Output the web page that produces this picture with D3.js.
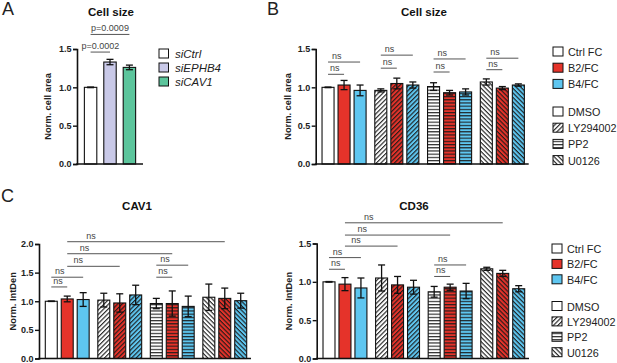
<!DOCTYPE html>
<html><head><meta charset="utf-8">
<script src="https://cdn.jsdelivr.net/npm/d3@7"></script>
<style>
html,body{margin:0;padding:0;background:#fff;}
svg{display:block;font-family:"Liberation Sans",Arial,sans-serif;}
</style></head>
<body><svg id="chart" width="617" height="363"></svg>
<script>
// ---------- DATA ----------
const aCategories = ["siCtrl", "siEPHB4", "siCAV1"];
const aMeans = [1.0, 1.33, 1.26];
const aErrors = [0.004, 0.035, 0.03];
const aTicks = [0, 0.5, 1.0, 1.5];
const aComparisons = [
  {from: 0, to: 1, y: 1.46, label: "p=0.0002"},
  {from: 0, to: 2, y: 1.69, label: "p=0.0009"}
];

const groups = ["DMSO", "LY294002", "PP2", "U0126"];
const conditions = ["Ctrl FC", "B2/FC", "B4/FC"];

const cellSizeMeans = [[1.0, 1.03, 0.96], [0.96, 1.05, 1.03], [1.01, 0.93, 0.94], [1.07, 0.99, 1.03]];
const cellSizeErrors = [[0.004, 0.06, 0.07], [0.02, 0.07, 0.04], [0.05, 0.03, 0.04], [0.04, 0.02, 0.015]];
const cellSizeTicks = [0, 0.5, 1.0, 1.5];
const cellSizeComparisons = [
  {from: [0, 0], to: [0, 1], y: 1.17, label: "ns"},
  {from: [0, 0], to: [0, 2], y: 1.33, label: "ns"},
  {from: [1, 0], to: [1, 1], y: 1.25, label: "ns"},
  {from: [1, 0], to: [1, 2], y: 1.42, label: "ns"},
  {from: [2, 0], to: [2, 1], y: 1.20, label: "ns"},
  {from: [2, 0], to: [2, 2], y: 1.37, label: "ns"},
  {from: [3, 0], to: [3, 1], y: 1.23, label: "ns"},
  {from: [3, 0], to: [3, 2], y: 1.38, label: "ns"}
];

const cav1Means = [[1.0, 1.04, 1.03], [1.02, 0.97, 1.11], [0.96, 0.96, 0.91], [1.07, 1.05, 1.01]];
const cav1Errors = [[0.004, 0.05, 0.12], [0.12, 0.16, 0.17], [0.09, 0.22, 0.18], [0.23, 0.18, 0.13]];
const cav1Ticks = [0, 0.5, 1.0, 1.5, 2.0];
const cav1Comparisons = [
  {from: [0, 0], to: [0, 1], y: 1.25, label: "ns"},
  {from: [0, 0], to: [0, 2], y: 1.42, label: "ns"},
  {from: [0, 1], to: [1, 1], y: 1.61, label: "ns"},
  {from: [0, 1], to: [2, 1], y: 1.83, label: "ns"},
  {from: [0, 1], to: [3, 1], y: 2.04, label: "ns"},
  {from: [2, 0], to: [2, 1], y: 1.42, label: "ns"},
  {from: [2, 0], to: [2, 2], y: 1.63, label: "ns"}
];

const cd36Means = [[1.0, 0.97, 0.92], [1.05, 0.96, 0.93], [0.87, 0.93, 0.88], [1.17, 1.11, 0.91]];
const cd36Errors = [[0.004, 0.085, 0.13], [0.17, 0.11, 0.09], [0.07, 0.04, 0.1], [0.02, 0.04, 0.04]];
const cd36Ticks = [0, 0.5, 1.0, 1.5];
const cd36Comparisons = [
  {from: [0, 0], to: [0, 1], y: 1.164, label: "ns"},
  {from: [0, 0], to: [0, 2], y: 1.316, label: "ns"},
  {from: [0, 1], to: [1, 1], y: 1.466, label: "ns"},
  {from: [0, 1], to: [2, 1], y: 1.61, label: "ns"},
  {from: [0, 1], to: [3, 1], y: 1.77, label: "ns"},
  {from: [2, 0], to: [2, 1], y: 1.07, label: "ns"},
  {from: [2, 0], to: [2, 2], y: 1.22, label: "ns"}
];

// ---------- STYLE ----------
const aColors = ["#ffffff", "#c9c9e8", "#5cc59c"];
const condColors = ["#ffffff", "#e5332a", "#5ec6f0"];
const patternKinds = ["solid", "fwd", "horiz", "back"];

const svg = d3.select("#chart");
const defs = svg.append("defs");

function patternId(colorIdx, kind) { return `p-${colorIdx}-${kind}`; }
condColors.forEach((c, ci) => {
  patternKinds.forEach(k => {
    if (k === "solid") return;
    const p = defs.append("pattern")
      .attr("id", patternId(ci, k))
      .attr("patternUnits", "userSpaceOnUse")
      .attr("width", 3.2).attr("height", 3.2);
    if (k === "fwd") p.attr("patternTransform", "rotate(-45)");
    if (k === "back") p.attr("patternTransform", "rotate(45)");
    p.append("rect").attr("width", 3.2).attr("height", 3.2).attr("fill", c);
    p.append("line").attr("x1", 0).attr("x2", 3.2).attr("y1", 0.6).attr("y2", 0.6)
      .attr("stroke", "#1a1a1a").attr("stroke-width", 1.1);
  });
});
function fillFor(ci, gi) {
  const k = patternKinds[gi];
  return k === "solid" ? condColors[ci] : `url(#${patternId(ci, k)})`;
}

const tickFont = "bold 9px 'Liberation Sans', Arial, sans-serif";

function drawYAxis(g, y, ticks, x0, label, labelX, labelSize) {
  const ax = g.append("g").attr("transform", `translate(${x0},0)`)
    .call(d3.axisLeft(y).tickValues(ticks).tickFormat(d3.format(".1f")).tickSize(4).tickPadding(1.5));
  ax.select(".domain").attr("stroke", "#111").attr("stroke-width", 1.6);
  ax.selectAll(".tick line").attr("stroke", "#111").attr("stroke-width", 1.4);
  ax.selectAll(".tick text").style("font", tickFont).attr("fill", "#222");
  const [y0, y1] = y.range();
  g.append("text").attr("transform", `translate(${labelX},${(y0 + y1) / 2}) rotate(-90)`)
    .attr("text-anchor", "middle").attr("dominant-baseline", "middle")
    .style("font", `bold ${labelSize}px 'Liberation Sans', Arial, sans-serif`).attr("fill", "#222").text(label);
}
function drawXLine(g, x0, x1, y0) {
  g.append("line").attr("x1", x0 - 0.8).attr("x2", x1).attr("y1", y0).attr("y2", y0)
    .attr("stroke", "#111").attr("stroke-width", 1.6);
}
function drawErr(g, cx, y, mean, err, capW) {
  g.append("line").attr("x1", cx).attr("x2", cx).attr("y1", y(mean - err)).attr("y2", y(mean + err))
    .attr("stroke", "#111").attr("stroke-width", 1.3);
  [mean - err, mean + err].forEach(v => {
    g.append("line").attr("x1", cx - capW / 2).attr("x2", cx + capW / 2).attr("y1", y(v)).attr("y2", y(v))
      .attr("stroke", "#111").attr("stroke-width", 1.3);
  });
}
function drawSig(g, xa, xb, yv, label, textCentered) {
  g.append("line").attr("x1", xa).attr("x2", xb).attr("y1", yv).attr("y2", yv)
    .attr("stroke", "#555").attr("stroke-width", 1);
  const t = g.append("text").attr("y", yv - 3)
    .style("font", "9px 'Liberation Sans', Arial, sans-serif").attr("fill", "#444").text(label);
  if (textCentered) t.attr("x", (xa + xb) / 2).attr("text-anchor", "middle");
  else t.attr("x", xa + 0.12 * (xb - xa)).attr("text-anchor", "start");
}
function title(x, yb, txt) {
  svg.append("text").attr("x", x).attr("y", yb).attr("text-anchor", "middle")
    .style("font", "bold 11.5px 'Liberation Sans', Arial, sans-serif").attr("fill", "#111").text(txt);
}
function panelLabel(x, yb, txt) {
  svg.append("text").attr("x", x).attr("y", yb)
    .style("font", "18px 'Liberation Sans', Arial, sans-serif").attr("fill", "#222").text(txt);
}

// ---------- PANEL A ----------
{
  const g = svg.append("g");
  const x = d3.scaleBand().domain(aCategories).range([77, 143]).paddingInner(0.36).paddingOuter(0.38);
  const y = d3.scaleLinear().domain([0, 1.5]).range([164, 49]);
  aCategories.forEach((c, i) => {
    g.append("rect").attr("x", x(c)).attr("y", y(aMeans[i])).attr("width", x.bandwidth())
      .attr("height", y(0) - y(aMeans[i])).attr("fill", aColors[i]).attr("stroke", "#111").attr("stroke-width", 1.1);
    drawErr(g, x(c) + x.bandwidth() / 2, y, aMeans[i], aErrors[i], 7);
  });
  drawYAxis(g, y, aTicks, 77, "Norm. cell area", 49, 9.3);
  drawXLine(g, 77, 143, 164);
  aComparisons.forEach(cp => {
    const xa = x(aCategories[cp.from]) + x.bandwidth() / 2;
    const xb = x(aCategories[cp.to]) + x.bandwidth() / 2;
    drawSig(g, xa, xb, y(cp.y), cp.label, true);
  });
  title(111, 16, "Cell size");
  panelLabel(2, 15, "A");
  // legend
  aCategories.forEach((c, i) => {
    const ly = 49 + i * 14;
    g.append("rect").attr("x", 159).attr("y", ly).attr("width", 9.5).attr("height", 9)
      .attr("fill", aColors[i]).attr("stroke", "#111").attr("stroke-width", 1);
    g.append("text").attr("x", 175).attr("y", ly + 8.5)
      .style("font", "italic 11.5px 'Liberation Sans', Arial, sans-serif").attr("fill", "#222").text(c);
  });
}

// ---------- GROUPED PANELS ----------
function groupedPanel(opts) {
  const g = svg.append("g");
  const xg = d3.scaleBand().domain(groups).range(opts.xr).paddingInner(0.165).paddingOuter(0.12);
  const xc = d3.scaleBand().domain(conditions).range([0, xg.bandwidth()]).paddingInner(0.25).paddingOuter(0);
  const y = d3.scaleLinear().domain(opts.domain).range(opts.yr);
  const cx = (gi, ci) => xg(groups[gi]) + xc(conditions[ci]) + xc.bandwidth() / 2;
  groups.forEach((gr, gi) => {
    conditions.forEach((c, ci) => {
      const m = opts.means[gi][ci];
      g.append("rect").attr("x", xg(gr) + xc(c)).attr("y", y(m)).attr("width", xc.bandwidth())
        .attr("height", y(0) - y(m)).attr("fill", fillFor(ci, gi)).attr("stroke", "#111").attr("stroke-width", 1.1);
      drawErr(g, cx(gi, ci), y, m, opts.errors[gi][ci], 7);
    });
  });
  drawYAxis(g, y, opts.ticks, opts.xr[0], opts.ylabel, opts.ylabelX, opts.ylabelSize);
  drawXLine(g, opts.xr[0], opts.xr[1] - 2, opts.yr[0]);
  opts.comparisons.forEach(cp => {
    drawSig(g, cx(cp.from[0], cp.from[1]), cx(cp.to[0], cp.to[1]), y(cp.y), cp.label, false);
  });
  title(opts.titleX, opts.titleY, opts.title);
}
function legendGrouped(x0, y0, rowH, gapOffset) {
  const g = svg.append("g");
  const font = "10.8px 'Liberation Sans', Arial, sans-serif";
  conditions.forEach((c, i) => {
    const ly = y0 + i * rowH;
    g.append("rect").attr("x", x0).attr("y", ly).attr("width", 10).attr("height", 9)
      .attr("fill", condColors[i]).attr("stroke", "#111").attr("stroke-width", 1);
    g.append("text").attr("x", x0 + 15).attr("y", ly + 9)
      .style("font", font).attr("fill", "#222").text(c);
  });
  groups.forEach((gr, i) => {
    const ly = y0 + gapOffset + i * rowH;
    g.append("rect").attr("x", x0).attr("y", ly).attr("width", 10).attr("height", 9)
      .attr("fill", fillFor(0, i)).attr("stroke", "#111").attr("stroke-width", 1);
    g.append("text").attr("x", x0 + 15).attr("y", ly + 9)
      .style("font", font).attr("fill", "#222").text(gr);
  });
}

groupedPanel({xr: [315.7, 530.7], yr: [164, 49], domain: [0, 1.5], ticks: cellSizeTicks,
  means: cellSizeMeans, errors: cellSizeErrors, comparisons: cellSizeComparisons,
  ylabel: "Norm. cell area", ylabelX: 289, ylabelSize: 9.3, title: "Cell size", titleX: 424, titleY: 16});
panelLabel(267, 15, "B");
legendGrouped(553, 47, 16.2, 60);

groupedPanel({xr: [39, 253], yr: [358.5, 244], domain: [0, 2.0], ticks: cav1Ticks,
  means: cav1Means, errors: cav1Errors, comparisons: cav1Comparisons,
  ylabel: "Norm. IntDen", ylabelX: 14, ylabelSize: 9.3, title: "CAV1", titleX: 137, titleY: 210});
panelLabel(1, 202, "C");

groupedPanel({xr: [316.7, 531], yr: [358.5, 243.5], domain: [0, 1.5], ticks: cd36Ticks,
  means: cd36Means, errors: cd36Errors, comparisons: cd36Comparisons,
  ylabel: "Norm. IntDen", ylabelX: 290, ylabelSize: 9.3, title: "CD36", titleX: 414, titleY: 210});
legendGrouped(552, 244, 15.4, 57.5);
</script></body></html>
